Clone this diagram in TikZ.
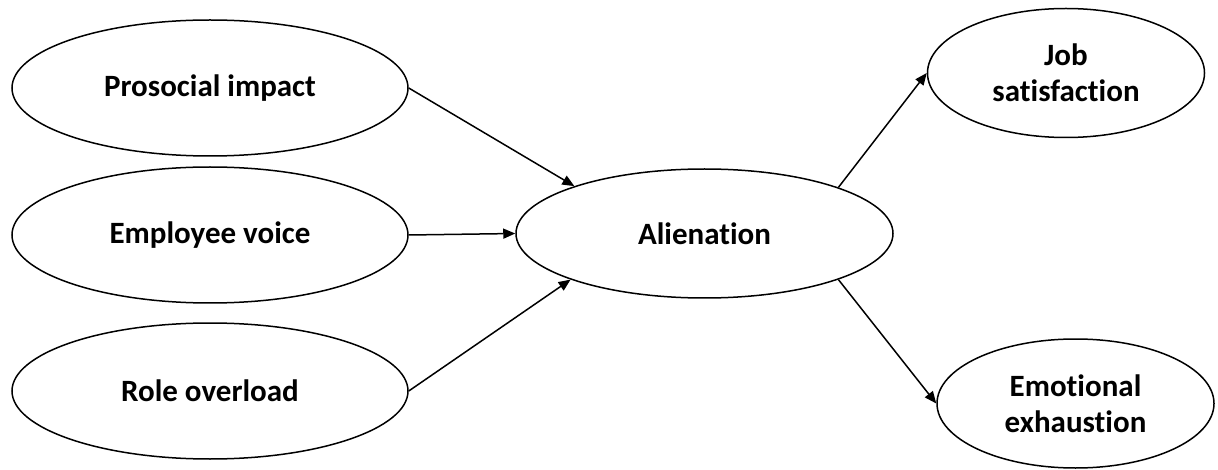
\documentclass[tikz,border=0pt]{standalone}
\usepackage{fontspec}
\setmainfont{Carlito}[Ligatures=NoCommon]
\usetikzlibrary{shapes.geometric,arrows.meta}
\tikzset{
  construct/.style={draw, ellipse, line width=1.5pt, inner sep=0pt, align=center,
    font=\fontsize{31}{36}\selectfont\bfseries},
  bigell/.style={construct, minimum width=396pt, minimum height=136pt},
  midell/.style={construct, minimum width=377pt, minimum height=129pt},
  smallell/.style={construct, minimum width=277pt, minimum height=129pt},
  path/.style={line width=1.5pt, -{Triangle[length=12pt,width=10pt]}}
}
\begin{document}
\begin{tikzpicture}[x=1pt,y=-1pt]
\useasboundingbox (0,0) rectangle (1218,470);
\node[bigell] (pro) at (210,88) {Prosocial impact};
\node[bigell] (emp) at (210,235) {Employee voice};
\node[bigell] (rol) at (210,391) {Role overload};
\node[midell] (ali) at (704.5,233.5) {Alienation};
\node[smallell] (job) at (1066,73) {Job\\satisfaction};
\node[smallell] (emo) at (1075.5,403.5) {Emotional\\exhaustion};
\draw[path] (pro.east) -- (ali.160.5);
\draw[path] (emp.east) -- (ali.west);
\draw[path] (rol.east) -- (ali.199.5);
\draw[path] (ali.19.5) -- (job.west);
\draw[path] (ali.-19.5) -- (emo.west);
\end{tikzpicture}
\end{document}
